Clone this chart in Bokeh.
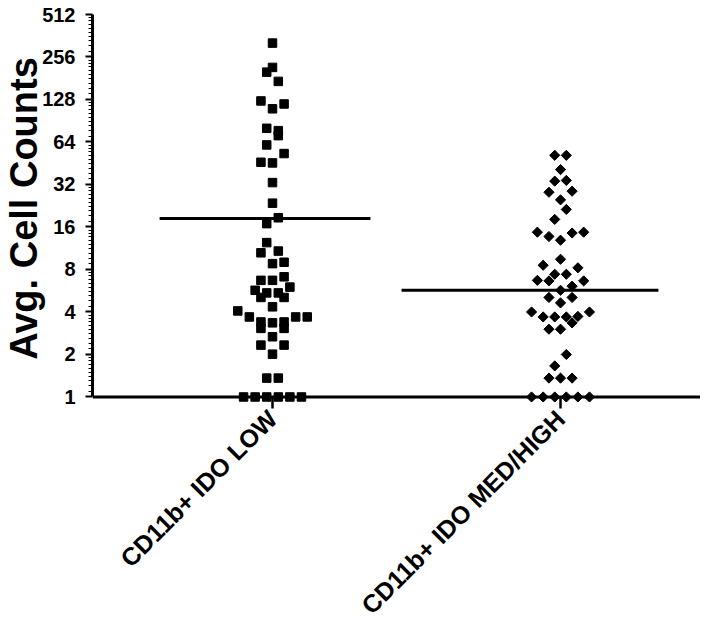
import math
from bokeh.plotting import figure
from bokeh.models import Range1d, FixedTicker, NumeralTickFormatter, Span, ColumnDataSource
from bokeh.embed import file_html
from bokeh.resources import INLINE

# ---- data ----
categories = ["CD11b+ IDO LOW", "CD11b+ IDO MED/HIGH"]
y_ticks = [1, 2, 4, 8, 16, 32, 64, 128, 256, 512]

g1_values = [321, 216, 200, 172, 125, 119, 110, 80, 77, 71, 61, 53, 46, 45.5, 33, 23.6,
             18.6, 16.9, 12.4, 10.5, 10.8, 8.8, 9.0, 6.7, 6.7, 7.1, 6.0, 5.7, 5.46, 5.46,
             5.07, 5.07, 4.35, 4.07, 3.69, 3.69, 3.69, 3.40, 3.06, 3.35, 3.40, 3.06, 2.67,
             2.33, 2.33, 2.01, 1.36, 1.36, 1, 1, 1, 1, 1, 1]
g1_jitter = [0, 0, -1, 1, -2, 2, 0, -1, 1, 1, -1, 2, -2, 0, 0, 0,
             1, -1, -1, -2, 1, 0, 2, -2, 0, 2, 3, -3, -1, 1,
             -2, 2, 0, -6, -4, 4, 6, -2, -2, 0, 2, 2, 0,
             -2, 2, 0, -1, 1, -5, -3, -1, 1, 3, 5]

g2_values = [51.5, 51.5, 40.8, 33.8, 34.2, 28.2, 28.7, 24.9, 21.3, 18.1, 14.7, 13.7, 12.9,
             14.5, 14.7, 9.45, 8.57, 8.22, 7.4, 7.4, 6.7, 6.64, 6.64, 5.7, 6.09, 5.07, 5.07,
             4.64, 4.0, 3.69, 3.69, 3.69, 3.72, 4.0, 3.35, 3.02, 3.02, 2.0, 1.66, 1.36, 1.36,
             1.36, 1, 1, 1, 1, 1, 1]
g2_jitter = [-1, 1, 0, -1, 1, -2, 2, 0, 1, -1, -4, -2, 0,
             2, 4, 0, -3, 3, -1, 1, -4, -2, 4, 0, 2, -2, 2,
             0, -5, -3, -1, 1, 3, 5, 2, -2, 0, 1, -1, -2, 0,
             2, -5, -3, -1, 1, 3, 5]

group_means = [18.4, 5.7]
mean_left = [0.392, 0.552]   # extent of mean bar left of category centre
mean_right = [0.340, 0.340]  # extent right of category centre

STEP = 0.0201
FONT = "Liberation Sans"

p = figure(width=700, height=632, output_backend="svg", toolbar_location=None,
           y_axis_type="log",
           x_range=Range1d(0.375, 2.486), y_range=Range1d(2 ** -0.13, 512),
           min_border_left=92, min_border_right=0, min_border_top=14, min_border_bottom=230)
p.outline_line_color = None
p.grid.visible = False
p.background_fill_color = "white"
p.border_fill_color = "white"

cat_pos = [i + 1 for i in range(len(categories))]

src1 = ColumnDataSource(dict(x=[cat_pos[0] + j * STEP for j in g1_jitter], y=g1_values))
src2 = ColumnDataSource(dict(x=[cat_pos[1] + j * STEP for j in g2_jitter], y=g2_values))
p.scatter("x", "y", source=src1, marker="square", size=8.5, fill_color="black", line_color="black")
p.scatter("x", "y", source=src2, marker="square", angle=math.pi / 4, size=7.2,
          fill_color="black", line_color="black")

p.segment(x0=[c - l for c, l in zip(cat_pos, mean_left)], y0=group_means,
          x1=[c + r for c, r in zip(cat_pos, mean_right)], y1=group_means,
          line_color="black", line_width=3)

p.add_layout(Span(location=1, dimension="width", line_color="black", line_width=3))

# y axis
ya = p.yaxis[0]
minor = []
for k in range(9):
    for j in range(1, 10):
        minor.append(2 ** k * (1 + j / 10))
ya.ticker = FixedTicker(ticks=y_ticks, minor_ticks=minor)
ya.formatter = NumeralTickFormatter(format="0")
ya.bounds = (1, 512)
ya.axis_line_width = 3
ya.axis_line_color = "black"
ya.major_tick_line_width = 2
ya.major_tick_out = 7
ya.major_tick_in = 0
ya.minor_tick_line_width = 1
ya.minor_tick_out = 4
ya.minor_tick_in = 0
ya.major_label_text_font = FONT
ya.major_label_text_font_style = "bold"
ya.major_label_text_font_size = "20px"
ya.major_label_text_color = "black"
ya.major_label_standoff = 10
ya.axis_label = "Avg. Cell Counts"
ya.axis_label_text_font = FONT
ya.axis_label_text_font_style = "bold"
ya.axis_label_text_font_size = "38px"
ya.axis_label_text_color = "black"
ya.axis_label_standoff = -6

# x axis
xa = p.xaxis[0]
xa.ticker = FixedTicker(ticks=cat_pos, minor_ticks=[])
xa.major_label_overrides = {c: n for c, n in zip(cat_pos, categories)}
xa.major_label_orientation = math.pi / 4
xa.axis_line_color = None
xa.major_tick_line_width = 2.5
xa.major_tick_in = 5
xa.major_tick_out = 6
xa.minor_tick_line_color = None
xa.major_label_text_font = FONT
xa.major_label_text_font_style = "bold"
xa.major_label_text_font_size = "25px"
xa.major_label_text_color = "black"
xa.major_label_standoff = 6

open("out.html", "w").write(file_html(p, INLINE))
